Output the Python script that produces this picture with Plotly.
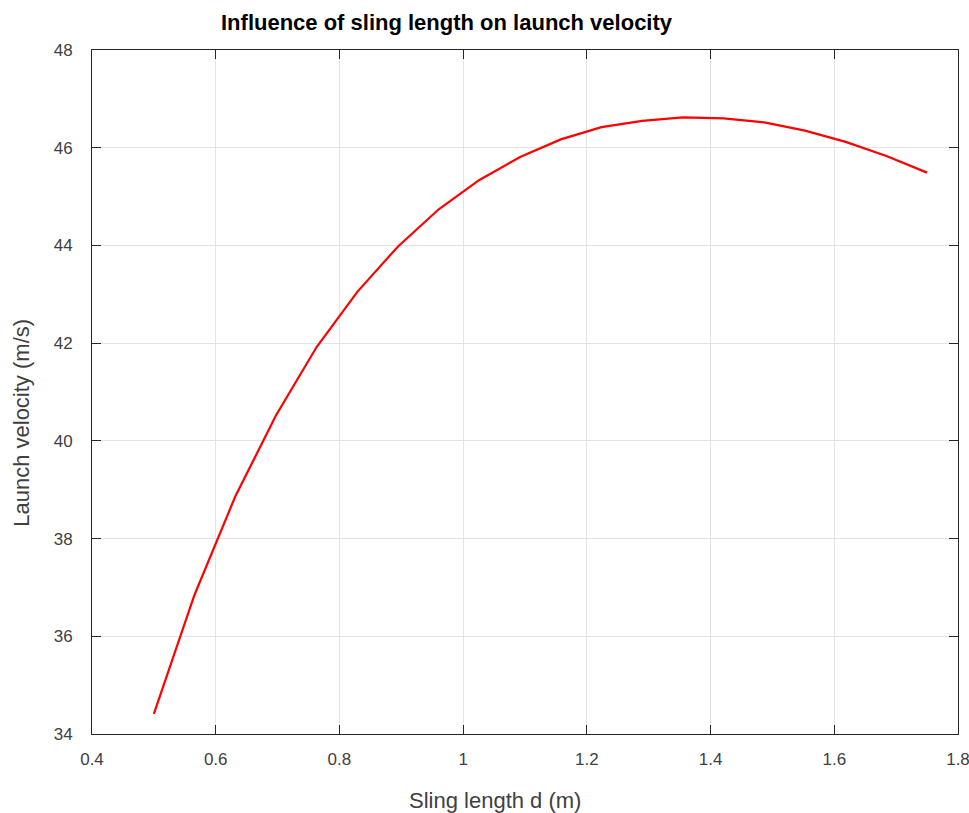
import numpy as np
import plotly.graph_objects as go

# Sling length samples (m) and resulting launch velocity (m/s)
sling_length = np.linspace(0.5, 1.75, 20)
launch_velocity = [34.41, 36.85, 38.86, 40.52, 41.92, 43.05, 43.98, 44.74, 45.34, 45.81,
                   46.17, 46.42, 46.55, 46.62, 46.60, 46.52, 46.35, 46.12, 45.83, 45.49]

x_ticks = [0.4, 0.6, 0.8, 1.0, 1.2, 1.4, 1.6, 1.8]
x_tick_text = ["0.4", "0.6", "0.8", "1", "1.2", "1.4", "1.6", "1.8"]
y_ticks = [34, 36, 38, 40, 42, 44, 46, 48]

FONT = "Liberation Sans, Arial, Helvetica, sans-serif"
AXIS_COLOR = "#262626"
TEXT_COLOR = "#404040"

fig = go.Figure()
fig.add_trace(go.Scatter(x=sling_length, y=launch_velocity, mode="lines",
                         line=dict(color="#ff0000", width=2.2), showlegend=False))

axis_common = dict(
    showline=True, linecolor=AXIS_COLOR, linewidth=1, mirror="ticks",
    ticks="inside", ticklen=9, tickwidth=1, tickcolor=AXIS_COLOR,
    showgrid=True, gridcolor="#e3e3e3", gridwidth=1, zeroline=False,
    automargin=False, ticklabeloverflow="allow",
    tickfont=dict(family=FONT, size=17, color=TEXT_COLOR),
)

fig.update_xaxes(range=[0.4, 1.8], tickvals=x_ticks, ticktext=x_tick_text,
                 ticklabelstandoff=10, **axis_common)
fig.update_yaxes(range=[34, 48], tickvals=y_ticks, ticklabelstandoff=15, **axis_common)

fig.update_layout(
    width=969, height=813,
    margin=dict(l=92, r=11, t=50, b=79),
    paper_bgcolor="white", plot_bgcolor="white",
    font=dict(family=FONT),
    annotations=[
        dict(text="<b>Influence of sling length on launch velocity</b>",
             xref="paper", yref="paper", x=0.41, y=1.0, yshift=28,
             showarrow=False, xanchor="center", yanchor="middle",
             font=dict(family=FONT, size=22, color="#000000")),
        dict(text="Sling length d (m)", xref="paper", yref="paper",
             x=0.465, y=0, yshift=-66, showarrow=False,
             xanchor="center", yanchor="middle",
             font=dict(family=FONT, size=22, color=TEXT_COLOR)),
        dict(text="Launch velocity (m/s)", xref="paper", yref="paper",
             x=0, xshift=-70, y=0.455, textangle=-90, showarrow=False,
             xanchor="center", yanchor="middle",
             font=dict(family=FONT, size=22, color=TEXT_COLOR)),
    ],
)

fig.write_html("out.html")
